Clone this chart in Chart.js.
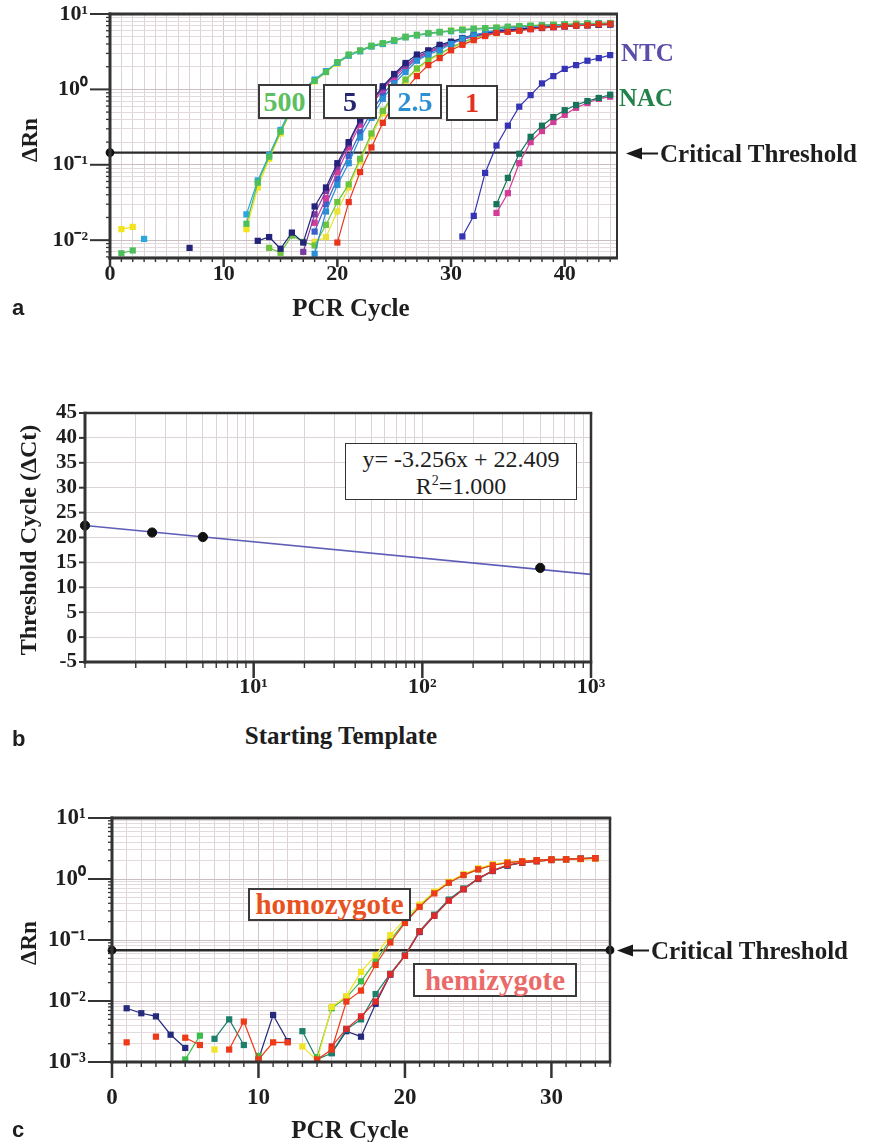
<!DOCTYPE html>
<html><head><meta charset="utf-8"><title>Real-time PCR</title>
<script src="https://cdn.jsdelivr.net/npm/chart.js@4.4.1/dist/chart.umd.min.js"></script>
<style>
html,body{margin:0;padding:0;background:#fff;}
body{position:relative;width:875px;height:1142px;overflow:hidden;font-family:"Liberation Serif","Times New Roman",serif;color:#1e1e1e;}
canvas{position:absolute;left:0;}
.t{position:absolute;white-space:nowrap;font-weight:bold;line-height:1;}
.rot{transform:translate(-50%,-50%) rotate(-90deg);}
.ctr{transform:translate(-50%,-50%);}
.lab{position:absolute;font-family:"Liberation Sans",Arial,sans-serif;font-weight:bold;font-size:22px;line-height:1;transform:translateY(-50%);}
.box{position:absolute;box-sizing:border-box;border:2px solid #3a3a3a;background:#fff;display:flex;align-items:center;justify-content:center;font-weight:bold;line-height:1;white-space:nowrap;}
.arr{position:absolute;display:flex;align-items:center;transform:translateY(-50%);font-weight:bold;white-space:nowrap;line-height:1;}
.hd{display:block;width:0;height:0;border-top:6px solid transparent;border-bottom:6px solid transparent;border-right:16px solid #1a1a1a;}
.sh{display:block;width:16px;height:2px;background:#1a1a1a;margin-right:2px;}
.eq{position:absolute;box-sizing:border-box;border:1.5px solid #333;background:#fff;font-weight:normal;text-align:center;line-height:1.08;font-size:24px;padding-top:3px;}
</style></head><body>
<canvas id="ca" width="875" height="300" style="top:0px"></canvas>
<canvas id="cb" width="875" height="320" style="top:395px"></canvas>
<canvas id="cc" width="875" height="342" style="top:800px"></canvas>

<!-- panel a texts -->
<div class="t rot" style="left:29px;top:140px;font-size:23px">ΔRn</div>
<div class="t ctr" style="left:351px;top:307px;font-size:25px">PCR Cycle</div>
<div class="lab" style="left:12px;top:308px">a</div>
<div class="box" style="left:258px;top:84px;width:53px;height:35px;color:#5cbf62;font-size:28px">500</div>
<div class="box" style="left:323px;top:84px;width:54px;height:35px;color:#25256e;font-size:28px">5</div>
<div class="box" style="left:388px;top:84px;width:54px;height:35px;color:#2b8fd2;font-size:28px">2.5</div>
<div class="box" style="left:446px;top:85px;width:52px;height:36px;color:#e2321e;font-size:28px">1</div>
<div class="t" style="left:621px;top:40px;font-size:25px;color:#5a4ea8">NTC</div>
<div class="t" style="left:619px;top:85px;font-size:25px;color:#23824a">NAC</div>
<div class="arr" style="left:626px;top:153px;font-size:25px"><i class="hd"></i><i class="sh"></i><span>Critical Threshold</span></div>

<!-- panel b texts -->
<div class="t rot" style="left:28px;top:540px;font-size:24px">Threshold Cycle (ΔCt)</div>
<div class="t ctr" style="left:341px;top:735px;font-size:25px">Starting Template</div>
<div class="lab" style="left:12px;top:739px">b</div>
<div class="eq" style="left:345px;top:443px;width:232px;height:57px">y= -3.256x + 22.409<br>R<sup style="font-size:14px">2</sup>=1.000</div>

<!-- panel c texts -->
<div class="t rot" style="left:28px;top:943px;font-size:23px">ΔRn</div>
<div class="t ctr" style="left:350px;top:1129px;font-size:25px">PCR Cycle</div>
<div class="lab" style="left:12px;top:1130px">c</div>
<div class="box" style="left:248px;top:888px;width:163px;height:33px;color:#e8521e;font-size:29px">homozygote</div>
<div class="box" style="left:413px;top:963px;width:164px;height:34px;color:#ea6a6a;font-size:29px">hemizygote</div>
<div class="arr" style="left:617px;top:950px;font-size:25px"><i class="hd"></i><i class="sh"></i><span>Critical Threshold</span></div>

<script>
// ---------- helpers ----------
const pad = (n, arr) => Array(n).fill(null).concat(arr);
const cycles = n => Array.from({length: n}, (_, i) => i + 1);

// ---------- panel a data (ΔRn per PCR cycle, index 0 = cycle 1) ----------
const cyclesA = cycles(44);
const thrA = 0.145;
const xMinA = 0, xMaxA = 44.6, yMinA = 0.0058, yMaxA = 10;
const a500green = [0.0067, 0.0073, ...pad(9, [0.0165, 0.058, 0.128, 0.275, 0.55, 0.95, 1.3, 1.7, 2.3, 2.9, 3.3, 3.8, 4.1, 4.5, 5.0, 5.3, 5.6, 5.8, 6.0, 6.2, 6.4, 6.5, 6.6, 6.8, 6.9, 7.0, 7.1, 7.2, 7.3, 7.4, 7.5, 7.5, 7.6])];
const a500cyan = [null, null, 0.0104, ...pad(8, [0.022, 0.062, 0.135, 0.29, 0.6, 1.0, 1.35, 1.75, 2.25, 2.8, 3.2, 3.7, 4.0, 4.4, 4.9, 5.2, 5.5, 5.7, 5.9, 6.1, 6.3, 6.4, 6.5, 6.7, 6.8, 6.9, 7.0, 7.1, 7.2, 7.3, 7.4, 7.4, 7.5])];
const a500yellow = [0.014, 0.015, ...pad(9, [0.014, 0.05, 0.12, 0.26, 0.55, 0.92, 1.28, 1.7, 2.2, 2.8, 3.2, 3.7, 4.0, 4.4, 4.9, 5.2, 5.5, 5.7, 6.0, 6.2, 6.3, 6.5, 6.6, 6.7, 6.9, 7.0, 7.1, 7.2, 7.3, 7.4, 7.4, 7.5, 7.5])];
const a5navy = pad(6, [0.0079, ...pad(5, [0.0098, 0.011, 0.0077, 0.0126, 0.0093, 0.028, 0.05, 0.105, 0.2, 0.4, 0.7, 1.1, 1.6, 2.24, 2.9, 3.3, 3.9, 4.3, 4.8, 5.3, 5.6, 5.9, 6.1, 6.3, 6.5, 6.6, 6.8, 6.9, 7.0, 7.1, 7.2, 7.3])]);
const a5purple = pad(16, [0.007, 0.022, 0.045, 0.095, 0.19, 0.38, 0.68, 1.05, 1.55, 2.1, 2.7, 3.2, 3.7, 4.2, 4.7, 5.1, 5.5, 5.8, 6.0, 6.2, 6.4, 6.6, 6.7, 6.9, 7.0, 7.1, 7.2, 7.3]);
const a5magenta = pad(17, [0.017, 0.036, 0.08, 0.17, 0.34, 0.62, 1.0, 1.45, 2.0, 2.6, 3.1, 3.6, 4.1, 4.6, 5.0, 5.4, 5.7, 5.9, 6.1, 6.3, 6.5, 6.7, 6.8, 7.0, 7.1, 7.2, 7.3]);
const a25light = pad(17, [0.0066, 0.024, 0.054, 0.105, 0.23, 0.42, 0.75, 1.2, 1.7, 2.4, 2.9, 3.3, 4.0, 4.7, 5.2, 5.7, 6.1, 6.5, 6.7, 6.9, 7.0, 7.1, 7.2, 7.3, 7.4, 7.5, 7.5]);
const a25blue = pad(17, [0.013, 0.03, 0.065, 0.13, 0.27, 0.5, 0.85, 1.3, 1.9, 2.5, 3.0, 3.5, 4.1, 4.6, 5.1, 5.5, 5.9, 6.2, 6.4, 6.6, 6.8, 6.9, 7.0, 7.1, 7.2, 7.3, 7.3]);
const a1red = pad(19, [0.0093, 0.032, 0.08, 0.17, 0.36, 0.65, 1.0, 1.5, 2.1, 2.6, 3.3, 3.9, 4.5, 5.1, 5.6, 5.8, 6.0, 6.3, 6.6, 6.7, 6.9, 7.0, 7.1, 7.3, 7.4]);
const a1green = pad(13, [0.0079, 0.0068, 0.0115, 0.0095, 0.0085, 0.016, 0.032, 0.055, 0.12, 0.26, 0.52, 0.88, 1.35, 1.9, 2.5, 3.0, 3.6, 4.2, 4.8, 5.3, 5.7, 6.0, 6.3, 6.5, 6.7, 6.9, 7.0, 7.1, 7.2, 7.3, 7.4]);
const a1yellow = pad(17, [0.0095, 0.011, 0.024, 0.05, 0.11, 0.24, 0.48, 0.85, 1.3, 1.85, 2.4, 2.9, 3.5, 4.1, 4.7, 5.2, 5.6, 5.9, 6.2, 6.4, 6.6, 6.8, 6.9, 7.0, 7.1, 7.2, 7.3]);
const aNTC = pad(30, [0.0112, 0.021, 0.078, 0.18, 0.33, 0.59, 0.84, 1.2, 1.5, 1.87, 2.1, 2.4, 2.6, 2.85]);
const aNACteal = pad(33, [0.03, 0.067, 0.14, 0.235, 0.33, 0.43, 0.53, 0.62, 0.7, 0.77, 0.85]);
const aNACmag = pad(33, [0.023, 0.042, 0.105, 0.2, 0.28, 0.37, 0.46, 0.57, 0.66, 0.75, 0.8]);
const xMajorA = [0, 10, 20, 30, 40];
const xMajorLabelsA = ['0', '10', '20', '30', '40'];
const yMajorA = [0.01, 0.1, 1, 10];
const yMajorLabelsA = ['10⁻²', '10⁻¹', '10⁰', '10¹'];

// ---------- panel b data ----------
const templates = [1, 2.5, 5, 500];
const thresholdCt = [22.4, 21.0, 20.1, 13.9];
const fitX = [1, 1000];
const fitY = [22.4, 12.6];
const xMajorB = [10, 100, 1000];
const xMajorLabelsB = ['10¹', '10²', '10³'];
const yTicksB = [-5, 0, 5, 10, 15, 20, 25, 30, 35, 40, 45];
const yTickLabelsB = ['-5', '0', '5', '10', '15', '20', '25', '30', '35', '40', '45'];

// ---------- panel c data ----------
const cyclesC = cycles(33);
const thrC = 0.068;
const xMinC = 0, xMaxC = 34, yMinC = 0.001, yMaxC = 10;
const cNavy = [0.0076, 0.0063, 0.0056, 0.0028, 0.0017, null, null, null, null, 0.0011, 0.0059, 0.0022, null, null, 0.0014, 0.0032, 0.0026, 0.009, 0.027, 0.055, 0.135, 0.25, 0.45, 0.68, 1.0, 1.35, 1.65, 1.85, 2.0, 2.05, 2.1, 2.15, 2.2];
const cTeal = pad(6, [0.0024, 0.005, 0.0019, null, null, null, 0.0032, 0.0011, 0.0014, 0.0034, 0.005, 0.013, 0.028, 0.056, 0.14, 0.26, 0.46, 0.7, 1.02, 1.37, 1.68, 1.85, 1.95, 2.05, 2.1, 2.15, 2.2]);
const cRedHemi = pad(14, [0.0018, 0.0035, 0.0056, 0.0098, 0.0275, 0.055, 0.138, 0.25, 0.44, 0.68, 1.02, 1.37, 1.7, 1.85, 1.95, 2.05, 2.1, 2.15, 2.2]);
const cRedHomo = [0.0021, null, 0.0026, null, 0.0025, 0.0019, null, 0.0016, 0.0046, 0.0011, 0.0021, 0.0021, null, 0.0011, 0.0016, 0.0098, 0.0148, 0.039, 0.091, 0.19, 0.35, 0.58, 0.87, 1.16, 1.44, 1.68, 1.85, 1.95, 2.04, 2.1, 2.1, 2.15, 2.18];
const cGreen = [null, null, null, null, 0.0011, 0.0027, null, null, null, 0.00126, null, null, null, 0.0012, 0.0076, 0.0115, 0.021, 0.045, 0.1, 0.2, 0.36, 0.6, 0.87, 1.16, 1.44, 1.68, 1.85, 1.95, 2.04, 2.1, 2.1, 2.15, 2.2];
const cYellow = pad(6, [0.0016, null, null, null, null, null, 0.0018, 0.00105, 0.008, 0.012, 0.030, 0.056, 0.12, 0.22, 0.38, 0.62, 0.9, 1.2, 1.5, 1.75, 1.9, 1.95, 2.0, 2.05, 2.1, 2.1, 2.15]);
const xMajorC = [0, 10, 20, 30];
const xMajorLabelsC = ['0', '10', '20', '30'];
const yMajorC = [0.001, 0.01, 0.1, 1, 10];
const yMajorLabelsC = ['10⁻³', '10⁻²', '10⁻¹', '10⁰', '10¹'];

// ---------- chart helpers ----------
Chart.defaults.font.family = '"Liberation Serif", "Times New Roman", serif';
Chart.defaults.font.weight = 'bold';
Chart.defaults.color = '#1e1e1e';

const near = (a, b) => Math.abs(a - b) <= Math.abs(b) * 1e-6 + 1e-12;
const labelOf = (vals, labels, v) => { const i = vals.findIndex(m => near(v, m)); return i >= 0 ? labels[i] : ''; };
function logTickValues(minExp, maxExp) {
  const out = [];
  for (let e = minExp; e < maxExp; e++) for (let m = 1; m <= 9; m++) out.push(+(m * Math.pow(10, e)).toPrecision(8));
  out.push(Math.pow(10, maxExp));
  return out;
}
function intTicks(min, max) { const out = []; for (let v = Math.ceil(min); v <= max; v++) out.push(v); return out; }
const noPadV = (ax, w) => { ax.width = w; ax.paddingTop = 0; ax.paddingBottom = 0; };
const noPadH = (ax, h) => { ax.height = h; ax.paddingLeft = 0; ax.paddingRight = 0; };

const toXY = (xs, ys) => xs.map((x, i) => ({x, y: ys[i] === undefined ? null : ys[i]}));
function ser(xs, ys, color) {
  return {data: toXY(xs, ys), borderColor: color, backgroundColor: color, pointBackgroundColor: color,
    pointBorderColor: color, pointBorderWidth: 0, borderWidth: 1.2, pointRadius: 4.4, pointStyle: 'rect',
    tension: 0, fill: false, spanGaps: false};
}
function thresholdDs(thr, x0, x1, radii) {
  return {data: [{x: x0, y: thr}, {x: x1, y: thr}], borderColor: '#2a2a2a', borderWidth: 2.4,
    pointRadius: radii, pointStyle: 'circle', pointBackgroundColor: '#111', pointBorderColor: '#111', clip: false, fill: false};
}
function linX(min, max, majors, labels, height, padTop, size) {
  return {type: 'linear', min, max,
    afterBuildTicks: ax => { ax.ticks = intTicks(min, max).map(v => ({value: v, major: majors.some(m => near(v, m))})); },
    afterFit: ax => noPadH(ax, height),
    grid: {drawTicks: false, color: c => (c.tick && c.tick.major) ? '#d2c6c9' : '#ddd3d5', lineWidth: 1},
    border: {display: false},
    ticks: {autoSkip: false, maxRotation: 0, minRotation: 0, padding: padTop, font: {size},
      callback: v => labelOf(majors, labels, v)}};
}
function logY(min, max, minExp, maxExp, majors, labels, width, padR, size) {
  const vals = logTickValues(minExp, maxExp).filter(v => v >= min * 0.99999 && v <= max * 1.00001);
  return {type: 'logarithmic', min, max,
    afterBuildTicks: ax => { ax.ticks = vals.map(v => ({value: v, major: majors.some(m => near(v, m))})); },
    afterFit: ax => noPadV(ax, width),
    grid: {drawTicks: false, lineWidth: 1, color: c => (c.tick && c.tick.major) ? '#c9bec1' : '#e2dadc'},
    border: {display: false},
    ticks: {autoSkip: false, padding: padR, font: {size}, callback: v => labelOf(majors, labels, v)}};
}

const decor = {
  id: 'decor',
  afterDatasetsDraw(chart, args, o) {
    const {ctx, chartArea: a} = chart;
    const x = chart.scales.x, y = chart.scales.y;
    ctx.save();
    ctx.strokeStyle = o.color;
    const seg = (x1, y1, x2, y2, w) => { ctx.lineWidth = w; ctx.beginPath(); ctx.moveTo(x1, y1); ctx.lineTo(x2, y2); ctx.stroke(); };
    x.ticks.forEach(t => {
      const L = t.major ? o.xMajor : o.xMinor; if (!L) return;
      const p = x.getPixelForValue(t.value);
      seg(p, a.bottom, p, a.bottom + L, t.major ? 2.5 : 1.4);
    });
    y.ticks.forEach(t => {
      const L = (t.major || o.yAllMajor) ? o.yMajor : o.yMinor; if (!L) return;
      const p = y.getPixelForValue(t.value);
      seg(a.left, p, a.left - L, p, (t.major || o.yAllMajor) ? 2 : 1.3);
    });
    const [T, R, B, Lw] = o.frame;
    seg(a.left - Lw / 2, a.top, a.right + R / 2, a.top, T);
    seg(a.right, a.top, a.right, a.bottom, R);
    seg(a.left - Lw / 2, a.bottom, a.right + R / 2, a.bottom, B);
    seg(a.left, a.top - T / 2, a.left, a.bottom + B / 2, Lw);
    ctx.restore();
  }
};

const common = {responsive: false, animation: false, events: [], maintainAspectRatio: false};

// ---------- panel a ----------
const seriesA = [
  [a1red, '#e8341c'], [a500green, '#4cbf5a'], [a25light, '#2b8fd6'], [a500cyan, '#2aa8dc'],
  [a5navy, '#23237a'], [a5purple, '#7a3aa0'], [a5magenta, '#d23a9c'], [a25blue, '#3a5fc8'],
  [a1green, '#6cc43c'], [a1yellow, '#ece03a'], [a500yellow, '#f2e41c'],
  [aNTC, '#3434b4'], [aNACteal, '#17735a'], [aNACmag, '#d03c96']
];
new Chart(document.getElementById('ca'), {
  type: 'line',
  data: {datasets: [...seriesA.map(([d, c]) => ser(cyclesA, d, c)), thresholdDs(thrA, xMinA, xMaxA, [3.2, 0])]},
  options: {...common,
    layout: {padding: {left: 0, right: 258, top: 14, bottom: 0}},
    plugins: {legend: {display: false}, tooltip: {enabled: false},
      decor: {color: '#333', frame: [3, 2, 3, 3], xMinor: 4, xMajor: 9, yMinor: 4, yMajor: 20}},
    scales: {
      x: linX(xMinA, xMaxA, xMajorA, xMajorLabelsA, 42, 3, 22),
      y: logY(yMinA, yMaxA, -3, 1, yMajorA, yMajorLabelsA, 110, 22, 22)
    }},
  plugins: [decor]
});

// ---------- panel b ----------
const xValsB = logTickValues(0, 3);
new Chart(document.getElementById('cb'), {
  type: 'scatter',
  data: {datasets: [
    {data: templates.map((t, i) => ({x: t, y: thresholdCt[i]})), pointRadius: 4.6, pointStyle: 'circle',
      pointBackgroundColor: '#111', pointBorderColor: '#111', showLine: false, clip: false},
    {data: fitX.map((t, i) => ({x: t, y: fitY[i]})), showLine: true, borderColor: '#5e5eb8', borderWidth: 1.6,
      pointRadius: 0, fill: false}
  ]},
  options: {...common,
    layout: {padding: {left: 0, right: 284, top: 18, bottom: 0}},
    plugins: {legend: {display: false}, tooltip: {enabled: false},
      decor: {color: '#333', frame: [2.5, 2.5, 3, 3], xMinor: 6, xMajor: 16, yMinor: 6, yMajor: 6, yAllMajor: true}},
    scales: {
      x: {type: 'logarithmic', min: 1, max: 1000,
        afterBuildTicks: ax => { ax.ticks = xValsB.map(v => ({value: v, major: xMajorB.some(m => near(v, m))})); },
        afterFit: ax => noPadH(ax, 53),
        grid: {drawTicks: false, color: '#dcd4d6', lineWidth: 1}, border: {display: false},
        ticks: {autoSkip: false, maxRotation: 0, padding: 12, font: {size: 22}, callback: v => labelOf(xMajorB, xMajorLabelsB, v)}},
      y: {type: 'linear', min: -5, max: 45,
        afterBuildTicks: ax => { ax.ticks = yTicksB.map(v => ({value: v})); },
        afterFit: ax => noPadV(ax, 85),
        grid: {drawTicks: false, color: '#dcd4d6', lineWidth: 1}, border: {display: false},
        ticks: {autoSkip: false, padding: 8, font: {size: 21}, callback: v => labelOf(yTicksB, yTickLabelsB, v)}}
    }},
  plugins: [decor]
});

// ---------- panel c ----------
const seriesC = [
  [cRedHomo, '#ee3a18'], [cRedHemi, '#e02a2a'], [cYellow, '#f0e424'], [cGreen, '#3cbc48'],
  [cTeal, '#1b7f6a'], [cNavy, '#262a7c']
];
new Chart(document.getElementById('cc'), {
  type: 'line',
  data: {datasets: [...seriesC.map(([d, c]) => ser(cyclesC, d, c)), thresholdDs(thrC, xMinC, xMaxC, [3.2, 3.2])]},
  options: {...common,
    layout: {padding: {left: 0, right: 265, top: 18, bottom: 0}},
    plugins: {legend: {display: false}, tooltip: {enabled: false},
      decor: {color: '#333', frame: [3, 2.5, 3, 3], xMinor: 5, xMajor: 16, yMinor: 4, yMajor: 24}},
    scales: {
      x: linX(xMinC, xMaxC, xMajorC, xMajorLabelsC, 80, 22, 23),
      y: logY(yMinC, yMaxC, -3, 1, yMajorC, yMajorLabelsC, 112, 26, 23)
    }},
  plugins: [decor]
});
</script>
</body></html>
